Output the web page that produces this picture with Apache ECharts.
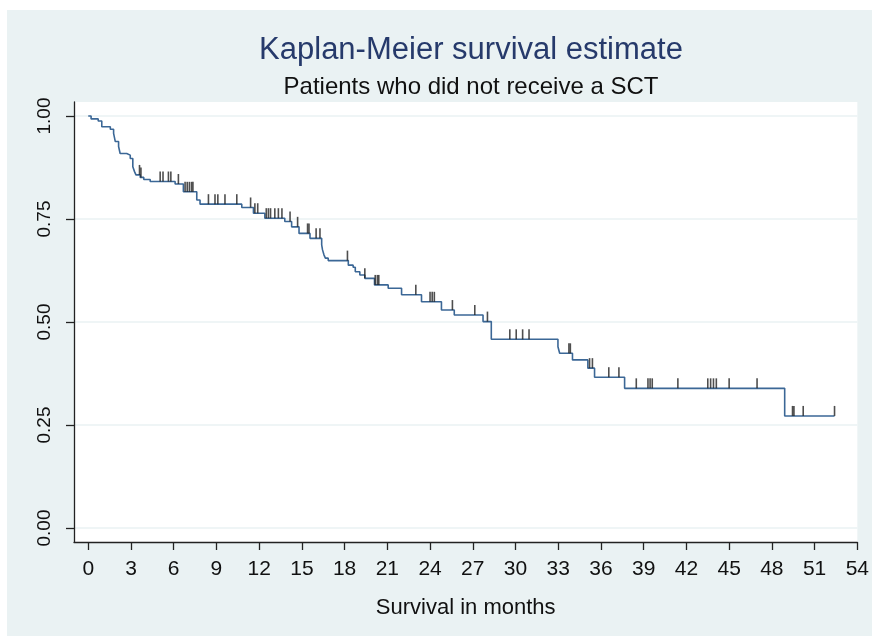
<!DOCTYPE html>
<html>
<head>
<meta charset="utf-8">
<script src="https://cdn.jsdelivr.net/npm/echarts@6/dist/echarts.min.js"></script>
<style>
  html, body { margin: 0; padding: 0; background: #fff; }
  #main { position: absolute; left: 7px; top: 10px; width: 865px; height: 626px; }
</style>
</head>
<body>
<div id="main"></div>
<script>
// Kaplan-Meier step points: time of each drop and the survival after it
var eventTimes = [0, 0.2, 0.7, 0.95, 1.55, 1.78, 1.9, 2.13, 2.24, 2.7, 2.95, 3.13, 3.25, 3.35, 3.65, 3.9, 4.35,
  6.1, 6.68, 7.62, 7.85, 10.78, 11.6, 12.4, 13.8, 14.28, 14.8, 15.57, 16.39, 16.45, 16.55, 16.65, 16.85,
  18.26, 18.6, 18.75, 19.07, 19.42, 20.1, 21.06, 22.0, 23.4, 24.8, 25.7, 27.72, 28.3, 32.98, 33.1,
  34.0, 35.08, 35.55, 37.66, 48.9, 52.4];
var survival = [1.0, 0.993, 0.988, 0.974, 0.968, 0.958, 0.938, 0.926, 0.909, 0.905, 0.897, 0.877, 0.865, 0.857, 0.851, 0.846, 0.841,
  0.835, 0.816, 0.796, 0.786, 0.778, 0.764, 0.752, 0.744, 0.731, 0.715, 0.703, 0.687, 0.675, 0.663, 0.655, 0.649,
  0.638, 0.633, 0.622, 0.614, 0.606, 0.590, 0.582, 0.566, 0.549, 0.529, 0.517, 0.501, 0.458, 0.440, 0.424,
  0.408, 0.388, 0.366, 0.339, 0.272, 0.272];
// censored observations (months)
var censorTimes = [3.6, 3.7, 5.05, 5.25, 5.63, 5.8, 6.33, 6.8, 6.95, 7.1, 7.25, 7.35, 8.44, 8.9, 9.1, 9.6,
  10.43, 11.4, 11.7, 11.9, 12.5, 12.65, 12.8, 13.1, 13.35, 13.6, 14.17, 14.7, 15.4, 15.5, 16.0, 16.27,
  18.2, 19.42, 20.15, 20.3, 20.4, 23.0, 24.0, 24.15, 24.3, 25.57, 27.14, 28.03, 29.6, 30.05, 30.5, 30.95,
  33.75, 33.85, 35.2, 35.4, 36.55, 37.26, 38.48, 39.3, 39.45, 39.6, 41.4, 43.5, 43.7, 43.9, 44.1, 45.0,
  46.96, 49.45, 49.55, 50.2, 52.4];
var xTicks = [0, 3, 6, 9, 12, 15, 18, 21, 24, 27, 30, 33, 36, 39, 42, 45, 48, 51, 54];
var yTicks = [0, 0.25, 0.5, 0.75, 1];

var font = "'Liberation Sans', Arial, sans-serif";

function survAt(t){
	var s = survival[0];
	for(var i=0;i<eventTimes.length;i++){
		if(eventTimes[i] <= t) s = survival[i];
	}
	return s;
}

var kmData = [];
for(var i=0;i<eventTimes.length;i++){
	kmData.push([eventTimes[i], survival[i]]);
}
var censorData = [];
for(var j=0;j<censorTimes.length;j++){
	censorData.push([censorTimes[j], survAt(censorTimes[j])]);
}

var myChart = echarts.init(document.getElementById('main'));
var option = {
	backgroundColor: '#eaf2f3',
	animation: false,
	title: [
		{
			text: 'Kaplan-Meier survival estimate',
			left: 459,
			textAlign: 'center',
			top: 20,
			textStyle: { fontFamily: font, fontSize: 31, fontWeight: 'normal', color: '#263a6b' }
		},
		{
			text: 'Patients who did not receive a SCT',
			left: 459,
			textAlign: 'center',
			top: 60,
			textStyle: { fontFamily: font, fontSize: 24, fontWeight: 'normal', color: '#111' }
		}
	],
	grid: {
		left: 67, top: 92, right: 14, bottom: 94,
		show: true, backgroundColor: '#fff', borderWidth: 0
	},
	xAxis: {
		type: 'value',
		min: -1, max: 54,
		name: 'Survival in months',
		nameLocation: 'middle',
		nameGap: 55,
		nameTextStyle: { fontFamily: font, fontSize: 22, color: '#111' },
		axisLine: { show: true, onZero: false, lineStyle: { color: '#222', width: 1.3 } },
		axisTick: { show: true, length: 8, customValues: xTicks, lineStyle: { color: '#222', width: 1.3 } },
		axisLabel: { customValues: xTicks, margin: 17, fontFamily: font, fontSize: 21, color: '#111' },
		splitLine: { show: false }
	},
	yAxis: {
		type: 'value',
		min: -0.034, max: 1.034,
		axisLine: { show: true, onZero: false, lineStyle: { color: '#222', width: 1.3 } },
		axisTick: { show: true, length: 8, customValues: yTicks, lineStyle: { color: '#222', width: 1.3 } },
		axisLabel: {
			customValues: yTicks, rotate: 90, margin: 20,
			fontFamily: font, fontSize: 19, color: '#111',
			formatter: function(v){ return v.toFixed(2); }
		},
		splitLine: { show: true, lineStyle: { color: '#eaf2f3', width: 1.5 } }
	},
	series: [
		{
			name: 'KM',
			type: 'line',
			step: 'end',
			data: kmData,
			symbol: 'none',
			lineStyle: { color: '#3b6796', width: 1.6 },
			z: 3
		},
		{
			name: 'censored',
			type: 'scatter',
			data: censorData,
			symbol: 'rect',
			symbolSize: [1.6, 10],
			symbolOffset: [0, -5],
			itemStyle: { color: '#222' },
			z: 4
		}
	]
};
myChart.setOption(option);
</script>
</body>
</html>
